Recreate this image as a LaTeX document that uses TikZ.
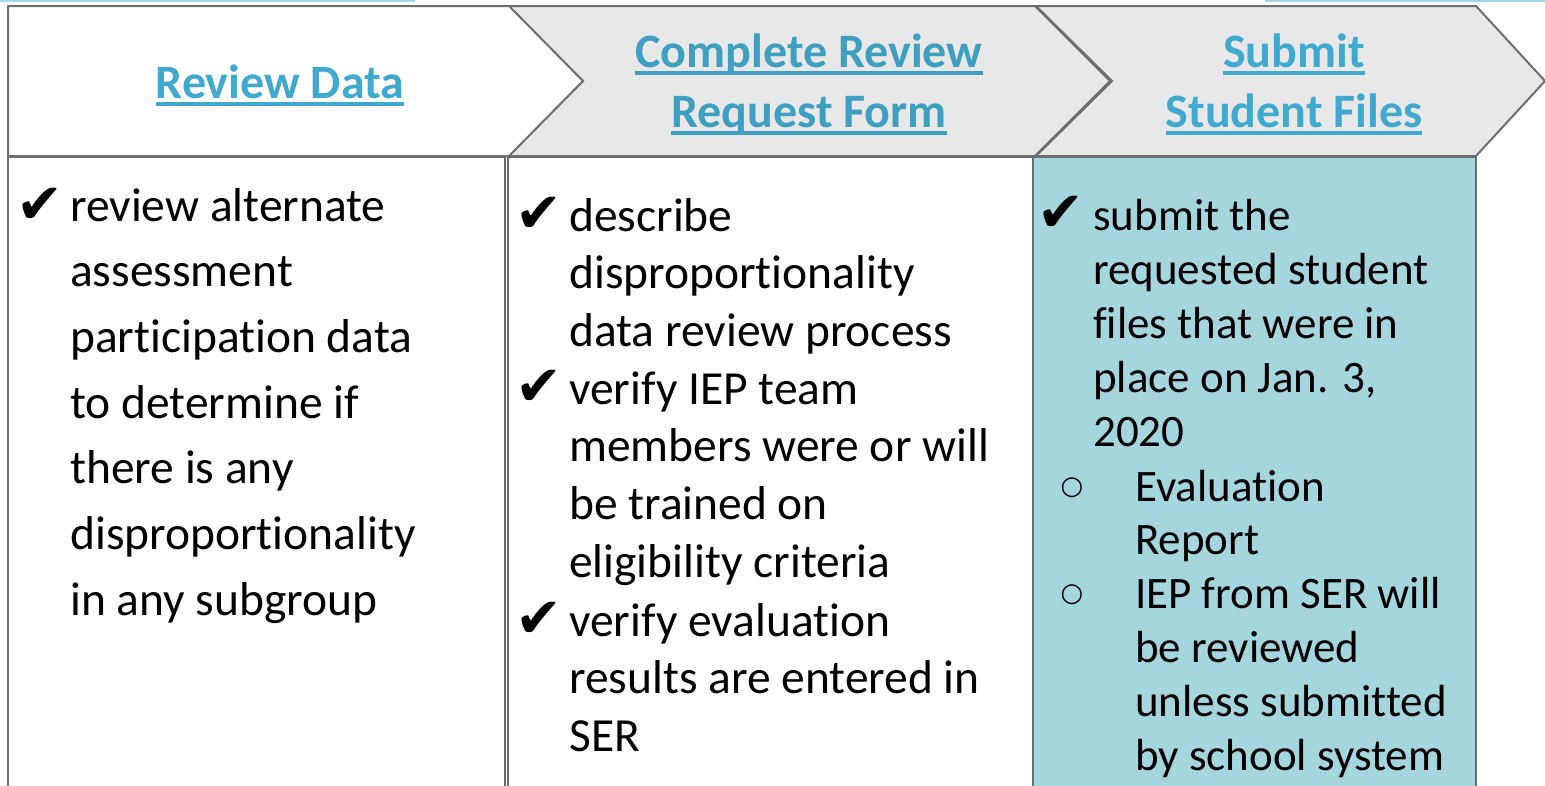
\documentclass[tikz,border=0pt]{standalone}
\usepackage{fontspec}
\setmainfont{Carlito}[Ligatures=NoCommon, RawFeature={-liga;-calt;-dlig}]
\newfontfamily\symfont{DejaVu Sans}
\definecolor{bordergray}{HTML}{6E6E6E}
\definecolor{hdrgray}{HTML}{E8E8E8}
\definecolor{teal}{HTML}{A5D6DE}
\definecolor{hdrblue}{HTML}{40A9CE}
\definecolor{hdrblueb}{HTML}{3E9FC0}
\definecolor{topblue}{HTML}{A9D5E8}
\newcommand\hdrul[1]{\setbox0=\hbox{#1}\rlap{\rule[-8pt]{\wd0}{4.5pt}}\box0}
\begin{document}
\begin{tikzpicture}[x=1pt,y=-1pt,
  border/.style={draw=bordergray, line width=2pt, line join=miter},
  hdr/.style={font=\bfseries\fontsize{48}{60}\selectfont, text=hdrblue, inner sep=0, anchor=base},
  bodytxt/.style={inner sep=0, anchor=base west},
  chk/.style={font=\symfont\fontsize{56}{56}\selectfont, inner sep=0, anchor=base west},
  bul/.style={font=\symfont\fontsize{26}{26}\selectfont, inner sep=0, anchor=center},
  topline/.style={draw=topblue, line width=1.6pt}]
\useasboundingbox (0,0) rectangle (1545,785);
\clip (0,0) rectangle (1545,785);
% faint top rules
\draw[topline] (0,0.8) -- (415,0.8);
\draw[topline] (1265,0.8) -- (1545,0.8);
% body columns
\path[border, fill=white] (8,157) rectangle (505,800);
\path[border, fill=white] (508,157) rectangle (1033,800);
\path[border, fill=teal] (1033,157) rectangle (1476,800);
% header chevrons
\path[border, fill=hdrgray] (1036,6) -- (1476,6) -- (1545,81) -- (1476,156) -- (1036,156) -- (1112,81) -- cycle;
\path[border, fill=hdrgray] (508,6) -- (1035,6) -- (1110,81) -- (1035,156) -- (508,156) -- (583,81) -- cycle;
\path[border, fill=white] (8,6) -- (509,6) -- (583,81) -- (509,156) -- (8,156) -- cycle;
% header texts
\node[hdr] (h1) at (280,98) {\hdrul{Review Data}};
\node[hdr, text=hdrblueb] (h2a) at (809,67) {\hdrul{Complete Review}};
\node[hdr, text=hdrblueb] (h2b) at (809,127) {\hdrul{Request Form}};
\node[hdr] (h3a) at (1294,67) {\hdrul{Submit}};
\node[hdr] (h3b) at (1294,127) {\hdrul{Student Files}};
% column 1
\node[chk] (c1) at (16,223) {✔};
\node[bodytxt] (t1) at (70,221) {\parbox[t]{430pt}{\fontsize{47.5}{65.7}\selectfont review alternate\\assessment\\participation data\\to determine if\\there is any\\disproportionality\\in any subgroup}};
% column 2
\node[chk] (c2a) at (515,232) {✔};
\node[bodytxt] (t2a) at (569,231) {\parbox[t]{460pt}{\fontsize{47.5}{57.7}\selectfont describe\\disproportionality\\data review process}};
\node[chk] (c2b) at (515,405) {✔};
\node[bodytxt] (t2b) at (569,404) {\parbox[t]{460pt}{\fontsize{47.5}{57.7}\selectfont verify IEP team\\members were or will\\be trained on\\eligibility criteria}};
\node[chk] (c2c) at (515,637) {✔};
\node[bodytxt] (t2c) at (569,636) {\parbox[t]{460pt}{\fontsize{47.5}{57.7}\selectfont verify evaluation\\results are entered in\\SER}};
% column 3
\node[chk] (c3) at (1037,231) {✔};
\node[bodytxt] (t3) at (1093,230) {\parbox[t]{380pt}{\fontsize{45}{54.2}\selectfont submit the\\requested student\\files that were in\\place on Jan. 3,\\2020}};
\node[bul] (b3a) at (1072,488) {○};
\node[bodytxt] (t3a) at (1135,501) {\parbox[t]{340pt}{\fontsize{45}{53.5}\selectfont Evaluation\\Report}};
\node[bul] (b3b) at (1072,595) {○};
\node[bodytxt] (t3b) at (1135,608) {\parbox[t]{340pt}{\fontsize{45}{54}\selectfont IEP from SER will\\be reviewed\\unless submitted\\by school system}};
\end{tikzpicture}
\end{document}
